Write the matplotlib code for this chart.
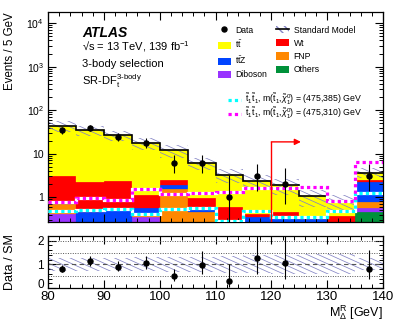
import math
import numpy as np
import matplotlib
matplotlib.use("Agg")
import matplotlib.pyplot as plt
import matplotlib.transforms as mtransforms
from matplotlib.patches import Patch, PathPatch
from matplotlib.lines import Line2D
from matplotlib.path import Path
from matplotlib.collections import LineCollection
from matplotlib.ticker import MultipleLocator, FixedLocator, NullFormatter, LogLocator

plt.rcParams['font.family'] = ['Liberation Sans', 'DejaVu Sans']
plt.rcParams['mathtext.fontset'] = 'custom'
plt.rcParams['mathtext.rm'] = 'Liberation Sans'
plt.rcParams['mathtext.it'] = 'Liberation Sans:italic'
plt.rcParams['mathtext.bf'] = 'Liberation Sans:bold'

# ---------------- data ----------------
bin_edges = [80, 85, 90, 95, 100, 105, 110, 115, 120, 125, 130, 135, 140]
data = [35, 39, 24, 18, 6, 6, 1, 3, 2, 0, 0, 3]
others = [0.10, 0.05, 0.05, 0.05, 0.05, 0.05, 0.02, 0.02, 0.02, 0.02, 0.02, 0.46]
diboson = [0.31, 0.05, 0.05, 0.30, 0.05, 0.05, 0.03, 0.03, 0.03, 0.03, 0.03, 0.10]
fnp = [0.29, 0.05, 0.05, 0.05, 1.48, 0.36, 0.05, 0.05, 0.05, 0.05, 0.05, 0.20]
ttz = [0.10, 0.31, 0.35, 0.18, 0.31, 0.14, 0.10, 0.25, 0.28, 0.22, 0.10, 1.49]
wt = [2.20, 1.79, 1.83, 0.57, 0.57, 0.36, 0.40, 0.07, 0.07, 0.06, 0.18, 0.30]
ttbar = [40.0, 32.45, 24.3, 16.05, 9.54, 5.14, 2.70, 1.91, 1.44, 0.67, 0.43, 1.15]
sm_rel_unc = [0.28, 0.28, 0.28, 0.30, 0.32, 0.32, 0.35, 0.38, 0.40, 0.42, 0.42, 0.25]
sig_385 = [0.48, 0.50, 0.53, 0.42, 0.53, 0.57, 0.28, 0.48, 0.35, 0.35, 0.48, 1.26]
sig_310 = [0.78, 0.96, 0.85, 1.58, 1.17, 1.28, 1.35, 1.64, 1.64, 1.70, 0.80, 6.50]
cut_value = 120
cut_arrow_end = 125.3
cut_arrow_height = 18.7

labels_bkg = [r'$\mathrm{t\bar{t}}$', r'$\mathrm{t\bar{t}Z}$', 'Diboson', 'Wt', 'FNP', 'Others']
colors = {'tt': '#ffff00', 'wt': '#ff0000', 'ttz': '#0044ff', 'fnp': '#ff8800',
          'dib': '#9933ff', 'oth': '#00913a'}
hatch_col = '#8383c4'

edges = np.array(bin_edges, dtype=float)
left = edges[:-1]
width = np.diff(edges)
centers = left + width / 2
data = np.array(data, dtype=float)
unc = np.array(sm_rel_unc)

stack = [(others, colors['oth']), (diboson, colors['dib']), (fnp, colors['fnp']),
         (ttz, colors['ttz']), (wt, colors['wt']), (ttbar, colors['tt'])]
sm = np.sum([np.array(s) for s, _ in stack], axis=0)


def pois_cdf(n, mu):
    term = math.exp(-mu)
    s = term
    for k in range(1, n + 1):
        term *= mu / k
        s += term
    return s


def garwood(n, a=0.158655):
    lo, hi = float(n), n + 10 * math.sqrt(n + 1) + 10
    for _ in range(100):
        mid = 0.5 * (lo + hi)
        if pois_cdf(n, mid) > a:
            lo = mid
        else:
            hi = mid
    up = 0.5 * (lo + hi)
    if n == 0:
        return 0.0, up
    l, h = 0.0, float(n)
    for _ in range(100):
        mid = 0.5 * (l + h)
        if pois_cdf(n - 1, mid) > 1 - a:
            l = mid
        else:
            h = mid
    return 0.5 * (l + h), up


err_lo = []
err_hi = []
for n in data.astype(int):
    l, u = garwood(n)
    err_lo.append(n - l)
    err_hi.append(u - n)
err_lo = np.array(err_lo)
err_hi = np.array(err_hi)


def hatch_band(ax, x_edges, lo, hi, color, spacing_px=5.0, slope=-0.45, lw=0.55):
    verts, codes = [], []
    for i in range(len(lo)):
        x0, x1 = x_edges[i], x_edges[i + 1]
        verts += [(x0, lo[i]), (x1, lo[i]), (x1, hi[i]), (x0, hi[i]), (x0, lo[i])]
        codes += [Path.MOVETO, Path.LINETO, Path.LINETO, Path.LINETO, Path.CLOSEPOLY]
    clip = PathPatch(Path(verts, codes), transform=ax.transData,
                     facecolor='none', edgecolor='none')
    ax.add_patch(clip)
    bb = ax.get_window_extent()
    W, H = bb.width, bb.height
    n = int((H - slope * W) / spacing_px) + 2
    segs = []
    for k in range(n):
        c = k * spacing_px
        segs.append([(0, c / H), (1, (c + slope * W) / H)])
    lc = LineCollection(segs, transform=ax.transAxes, colors=color, linewidths=lw)
    lc.set_clip_path(clip)
    ax.add_collection(lc)


# ---------------- figure ----------------
fig = plt.figure(figsize=(3.99, 3.28), dpi=100)
ax = fig.add_axes([48 / 399, 1 - 222 / 328, 335 / 399, 210 / 328])
axr = fig.add_axes([48 / 399, 1 - 288 / 328, 335 / 399, 52 / 328])

ax.set_yscale('log')
ax.set_xlim(80, 140)
ax.set_ylim(0.27, 1.8e4)

bottom = np.zeros(len(left))
for vals, col in stack:
    vals = np.array(vals)
    ax.bar(left, vals, width=width, bottom=bottom, align='edge', color=col,
           edgecolor=col, linewidth=0.2, zorder=1)
    bottom = bottom + vals

hatch_band(ax, edges, sm * (1 - unc), sm * (1 + unc), hatch_col)
ax.stairs(sm, edges, baseline=None, color='black', linewidth=1.2, zorder=3)

for sig, col in [(sig_385, '#00ffff'), (sig_310, '#ff00ff')]:
    ax.stairs(sig, edges, baseline=None, color='white', linewidth=2.3, zorder=4)
    ax.stairs(sig, edges, baseline=None, color=col, linewidth=2.3,
              linestyle=(0, (1, 1)), zorder=4.1)

# cut arrow
ax.plot([cut_value, cut_value], [0.27, cut_arrow_height], color='red', lw=1.0, zorder=5)
ax.annotate('', xy=(cut_arrow_end, cut_arrow_height), xytext=(cut_value, cut_arrow_height),
            arrowprops=dict(arrowstyle='-|>', color='red', lw=1.0, mutation_scale=9,
                            shrinkA=0, shrinkB=0), zorder=5)

mask = data > 0
ax.errorbar(centers[mask], data[mask], yerr=[err_lo[mask], err_hi[mask]], fmt='o',
            color='black', ms=3.6, elinewidth=0.8, capsize=0, zorder=6)

# ticks main
ax.yaxis.set_major_locator(FixedLocator([1, 10, 100, 1000, 10000]))
ax.set_yticklabels(['1', '10', r'$10^{2}$', r'$10^{3}$', r'$10^{4}$'])
ax.yaxis.set_minor_locator(LogLocator(base=10, subs=np.arange(2, 10)))
ax.yaxis.set_minor_formatter(NullFormatter())
ax.xaxis.set_major_locator(MultipleLocator(10))
ax.xaxis.set_minor_locator(MultipleLocator(2))
ax.tick_params(axis='both', which='both', direction='in', top=True, right=True,
               labelbottom=False)
ax.tick_params(which='major', length=6, width=0.8)
ax.tick_params(which='minor', length=3.2, width=0.7)
ax.tick_params(axis='y', labelsize=7.5, pad=3)
for s in ax.spines.values():
    s.set_linewidth(0.9)

# text
ax.text(0.1015, 0.882, 'ATLAS', transform=ax.transAxes, fontsize=10,
        fontweight='bold', fontstyle='italic', va='baseline', ha='left')
ax.text(0.1015, 0.819, '√s = 13 TeV, 139 fb$^{-1}$', transform=ax.transAxes,
        fontsize=8, va='baseline', ha='left')
ax.text(0.1015, 0.740, '3-body selection', transform=ax.transAxes,
        fontsize=8, va='baseline', ha='left')
ax.text(0.1015, 0.652, r'SR-DF$_{\mathrm{t}}^{\mathrm{3}\text{-}\mathrm{body}}$',
        transform=ax.transAxes, fontsize=8, va='baseline', ha='left')

# legends
h_data = Line2D([], [], marker='o', color='black', ls='none', ms=3.6)
h_sm = (Patch(facecolor='none', edgecolor=hatch_col, hatch='\\\\\\\\', lw=0),
        Line2D([], [], color='black', lw=1.2))
h_tt = Patch(facecolor=colors['tt'], edgecolor='none')
h_ttz = Patch(facecolor=colors['ttz'], edgecolor='none')
h_dib = Patch(facecolor=colors['dib'], edgecolor='none')
h_wt = Patch(facecolor=colors['wt'], edgecolor='none')
h_fnp = Patch(facecolor=colors['fnp'], edgecolor='none')
h_oth = Patch(facecolor=colors['oth'], edgecolor='none')
leg1 = ax.legend([h_data, h_tt, h_ttz, h_dib, h_sm, h_wt, h_fnp, h_oth],
                 ['Data', labels_bkg[0], labels_bkg[1], labels_bkg[2],
                  'Standard Model', labels_bkg[3], labels_bkg[4], labels_bkg[5]],
                 ncol=2, loc='upper left', bbox_to_anchor=(0.507, 0.935), fontsize=6.2,
                 frameon=False, borderpad=0, borderaxespad=0, handlelength=1.5,
                 handleheight=0.9, handletextpad=0.5, columnspacing=1.1,
                 labelspacing=0.48)
ax.add_artist(leg1)

sig_lab = r'$\mathrm{\tilde{t}_1\tilde{t}_1}$, m($\mathrm{\tilde{t}_1}$,$\tilde{\chi}^0_1$) = (475,{}) GeV'
sig_specs = [('385', '#00ffff', 0.618), ('310', '#ff00ff', 0.552)]
for i, (mass, col, ytop) in enumerate(sig_specs):
    hs = (Line2D([], [], color='white', lw=2.3),
          Line2D([], [], color=col, lw=2.3, ls=(0, (1, 1))))
    lg = ax.legend([hs], [sig_lab.replace('{}', mass)],
                   loc='upper left', bbox_to_anchor=(0.537, ytop), fontsize=6.3,
                   frameon=False, borderpad=0, borderaxespad=0, handlelength=1.5,
                   handletextpad=0.4)
    if i < len(sig_specs) - 1:
        ax.add_artist(lg)

# ---------------- ratio ----------------
axr.set_xlim(80, 140)
axr.set_ylim(0, 2.2)
hatch_band(axr, edges, 1 - unc, 1 + unc, hatch_col)
for yv in [0.5, 1.5, 2.0]:
    axr.axhline(yv, color='#555555', lw=0.7, ls=(0, (1, 1.5)), zorder=2)
axr.axhline(1.0, color='#555555', lw=0.8, ls=(0, (4, 3)), zorder=2)
ratio = data / sm
axr.errorbar(centers[mask], ratio[mask], yerr=[err_lo[mask] / sm[mask], err_hi[mask] / sm[mask]],
             fmt='o', color='black', ms=3.6, elinewidth=0.8, capsize=0, zorder=6)
axr.xaxis.set_major_locator(MultipleLocator(10))
axr.xaxis.set_minor_locator(MultipleLocator(2))
axr.yaxis.set_major_locator(MultipleLocator(1))
axr.yaxis.set_minor_locator(MultipleLocator(0.2))
axr.tick_params(axis='both', which='both', direction='in', top=True, right=True)
axr.tick_params(which='major', length=6, width=0.8)
axr.tick_params(which='minor', length=3.2, width=0.7)
axr.tick_params(axis='x', labelsize=9.5, pad=2.5)
axr.tick_params(axis='y', labelsize=8.5, pad=3)
for s in axr.spines.values():
    s.set_linewidth(0.9)

# nudge the "0" label up a little so it does not collide with "80"
fig.canvas.draw()
for lab in axr.get_yticklabels():
    if lab.get_text() == '0':
        lab.set_transform(lab.get_transform() +
                          mtransforms.ScaledTranslation(0, 3 / 72, fig.dpi_scale_trans))

fig.text(10 / 399, 1 - 12 / 328, 'Events / 5 GeV', rotation=90, ha='center', va='top',
         fontsize=8.3)
fig.text(10 / 399, 1 - 262 / 328, 'Data / SM', rotation=90, ha='center', va='center',
         fontsize=9)
fig.text(383 / 399, 1 - 313 / 328, r'M$_{\Delta}^{\mathrm{R}}$ [GeV]', ha='right',
         va='center', fontsize=9)

fig.savefig('out.png', dpi=100)
